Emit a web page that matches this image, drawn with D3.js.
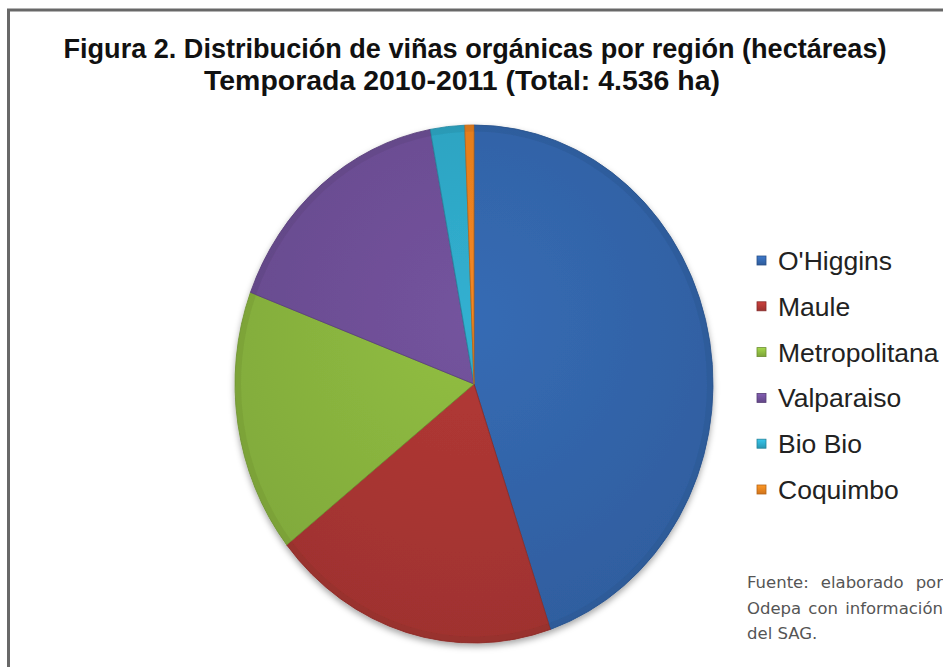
<!DOCTYPE html>
<html>
<head>
<meta charset="utf-8">
<script src="https://cdn.jsdelivr.net/npm/d3@7"></script>
<style>
  body { margin: 0; background: #fff; }
  svg { display: block; }
</style>
</head>
<body>
<svg width="943" height="667"></svg>
<script>
// data (hectares, total 4.536 ha)
var regions = ["O'Higgins", "Maule", "Metropolitana", "Valparaiso", "Bio Bio", "Coquimbo"];
var hectares = [2033, 885, 745, 740, 105, 28];
var colors = ["#3365ab", "#ab3633", "#8ab53f", "#6e4f96", "#2ea7c6", "#e8801f"];
var titleLines = ["Figura 2. Distribución de viñas orgánicas por región (hectáreas)",
                  "Temporada 2010-2011 (Total: 4.536 ha)"];
var sourceLines = ["Fuente: elaborado por", "Odepa con información", "del SAG."];

var svg = d3.select("svg"),
    width = +svg.attr("width"),
    height = +svg.attr("height");

var sans = "'Liberation Sans', Arial, sans-serif";

// frame
svg.append("rect")
    .attr("x", 8.5).attr("y", 10)
    .attr("width", 1200).attr("height", 1200)
    .attr("fill", "none")
    .attr("stroke", "#686868")
    .attr("stroke-width", 3);

// title (condensed look)
var titleLen = [823, 516];
svg.append("g")
    .selectAll("text")
    .data(titleLines)
    .enter().append("text")
        .attr("x", function(d, i) { return i ? 462 : 475; })
        .attr("y", function(d, i) { return 58 + i * 32; })
        .attr("text-anchor", "middle")
        .attr("font-family", sans)
        .attr("font-weight", "bold")
        .attr("font-size", 28)
        .attr("textLength", function(d, i) { return titleLen[i]; })
        .attr("lengthAdjust", "spacingAndGlyphs")
        .attr("fill", "#111")
        .text(function(d) { return d; });

var defs = svg.append("defs");

defs.append("filter")
    .attr("id", "shadow")
    .attr("x", "-10%").attr("y", "-10%").attr("width", "120%").attr("height", "125%")
    .append("feDropShadow")
        .attr("dx", 0).attr("dy", 3)
        .attr("stdDeviation", 3)
        .attr("flood-color", "#000")
        .attr("flood-opacity", 0.35);

colors.forEach(function(c, i) {
    var g = defs.append("radialGradient")
        .attr("id", "grad" + i)
        .attr("gradientUnits", "userSpaceOnUse")
        .attr("cx", 0).attr("cy", -60).attr("r", 300);
    g.append("stop").attr("offset", "0%").attr("stop-color", d3.color(c).brighter(0.15));
    g.append("stop").attr("offset", "100%").attr("stop-color", d3.color(c).darker(0.2));

    var lg = defs.append("linearGradient")
        .attr("id", "key" + i)
        .attr("x1", 0).attr("y1", 0).attr("x2", 0).attr("y2", 1);
    lg.append("stop").attr("offset", "0%").attr("stop-color", d3.color(c).brighter(0.5));
    lg.append("stop").attr("offset", "100%").attr("stop-color", d3.color(c).darker(0.3));
});

var cx = 474, cy = 384, radius = 239, yScale = 259 / 239;

var pie = d3.pie().sort(null).value(function(d) { return d; });
var arc = d3.arc().innerRadius(0).outerRadius(radius);
var arcInner = d3.arc().innerRadius(radius - 6).outerRadius(radius);

var pieG = svg.append("g")
    .attr("transform", "translate(" + cx + "," + cy + ") scale(1," + yScale + ")")
    .attr("filter", "url(#shadow)");

var arcs = pie(hectares);

pieG.selectAll("path.slice")
    .data(arcs)
    .enter().append("path")
        .attr("class", "slice")
        .attr("d", arc)
        .attr("fill", function(d, i) { return "url(#grad" + i + ")"; })
        .attr("stroke", function(d, i) { return d3.color(colors[i]).darker(0.6); })
        .attr("stroke-width", 0.8);

// bevel rim
pieG.selectAll("path.rim")
    .data(arcs)
    .enter().append("path")
        .attr("class", "rim")
        .attr("d", arcInner)
        .attr("fill", function(d, i) { return d3.color(colors[i]).darker(0.5); })
        .attr("fill-opacity", 0.4);

// legend
var legend = svg.append("g")
    .selectAll("g")
    .data(regions)
    .enter().append("g")
        .attr("transform", function(d, i) { return "translate(757," + (261 + i * 45.8) + ")"; });

legend.append("rect")
    .attr("x", 0).attr("y", -5)
    .attr("width", 9).attr("height", 9)
    .attr("fill", function(d, i) { return "url(#key" + i + ")"; })
    .attr("stroke", function(d, i) { return d3.color(colors[i]).darker(0.7); })
    .attr("stroke-width", 0.8);

legend.append("text")
    .attr("x", 21).attr("y", 9)
    .attr("font-family", sans)
    .attr("font-size", 26.5)
    .attr("fill", "#222")
    .text(function(d) { return d; });

// source note, justified to the right edge
var note = svg.append("g")
    .selectAll("text")
    .data(sourceLines)
    .enter().append("text")
        .attr("x", 747)
        .attr("y", function(d, i) { return 588 + i * 25.5; })
        .attr("font-family", "'DejaVu Sans', Verdana, sans-serif")
        .attr("font-size", 16.5)
        .attr("fill", "#555")
        .text(function(d) { return d; });

note.each(function(d, i) {
    if (i === sourceLines.length - 1) return;
    var gaps = d.split(" ").length - 1;
    var extra = (196 - this.getComputedTextLength()) / gaps;
    if (extra > 0) d3.select(this).attr("word-spacing", extra);
});
</script>
</body>
</html>
